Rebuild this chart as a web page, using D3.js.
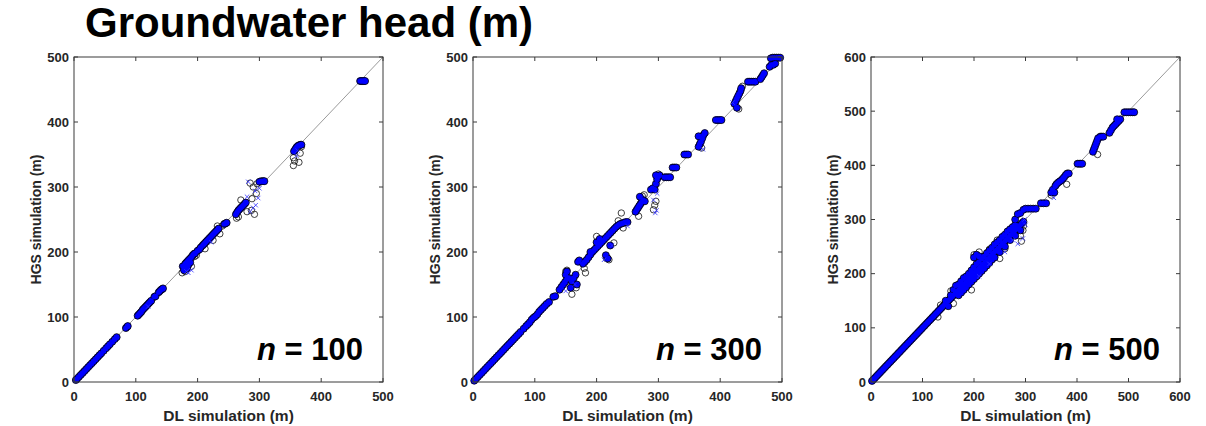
<!DOCTYPE html>
<html lang="en">
<head>
<meta charset="UTF-8">
<title>Groundwater head (m)</title>
<script src="https://d3js.org/d3.v7.min.js"></script>
<style>
    body { margin: 0; background: #fff; font-family: Arial, 'Liberation Sans', sans-serif; }
    svg { display: block; }
    .tick-label { font-size: 13px; font-weight: bold; fill: #262626; }
    .axis-label { font-weight: bold; fill: #262626; }
    .box { fill: none; stroke: #3a3a3a; stroke-width: 1; }
    .diag { stroke: #808080; stroke-width: 0.8; }
</style>
</head>
<body>
<svg id="chart" width="1206" height="426"></svg>
<script>
// ---- data: [DL simulation, HGS simulation] in metres ----
const panelNames = ["100", "300", "500"];
const axisMax = [500, 500, 600];
const tickValues = [
    [0, 100, 200, 300, 400, 500],
    [0, 100, 200, 300, 400, 500],
    [0, 100, 200, 300, 400, 500, 600]
];

const main100 = [[3,3],[5,5],[8,8],[11,11],[14,14],[17,17],[20,20],[23,23],[26,26],[29,29],[32,32],[35,35],[38,38],[41,41],[44,44],[48,48],[52,52],[55,55],[58,58],[62,62],[66,66],[69,69],
    [84,83],[86,85],[87,86],
    [103,102],[105,104],[107,106],[109,108],[111,111],[113,113],[115,115],[117,117],[119,119],[121,121],[123,123],[125,125],[130,131],[132,132],[137,138],[139,140],[141,142],[143,143],[144,144],
    [176,178],[178,176],[180,182],[182,184],[184,186],[186,188],[188,190],[190,192],[192,195],[194,197],[196,198],[185,180],[188,184],[178,172],[183,175],
    [200,202],[203,204],[205,207],[208,210],[210,212],[212,214],[214,216],[216,218],[218,220],[220,222],[222,224],[224,226],[226,228],[228,230],[230,232],[232,234],[234,236],
    [243,243],[245,244],[247,245],
    [262,258],[264,261],[266,264],[268,266],[270,268],[272,270],[274,272],[276,274],[278,276],
    [300,308],[303,309],[306,309],[308,309],
    [356,355],[358,358],[360,361],[362,363],[364,364],[366,365],[368,365],
    [463,463],[465,463],[467,463],[469,463],[471,463]];
const open100 = [[175,168],[180,170],[190,178],[195,193],[198,195],[212,205],[225,218],[232,240],[236,228],[240,240],[263,252],[266,254],[280,262],[287,264],[292,258],[288,282],[295,290],[290,300],[296,305],[285,306],[355,333],[357,340],[355,345],[364,338],[366,352],[368,362],[270,280]];
const cross100 = [[182,170],[190,172],[185,168],[222,215],[280,285],[285,262],[290,268],[294,272],[298,283],[293,294],[282,308],[300,298],[360,348],[362,356],[120,116]];

const main300 = [[2,2],[5,5],[8,8],[11,11],[14,14],[17,17],[20,20],[23,23],[26,26],[29,29],[32,32],[35,35],[38,38],[41,41],[44,44],[47,47],[50,50],[53,53],[56,56],[59,59],[62,62],[65,65],[68,68],[71,71],[74,74],[77,77],[82,82],[86,86],[89,89],[92,92],[95,96],[98,99],[101,101],[104,104],[107,108],[110,111],[113,114],[116,117],[119,120],[123,123],[130,131],[133,132],[140,142],[143,146],[146,150],[149,154],[152,158],[155,160],[150,165],[152,170],[158,145],[160,155],[163,160],[166,165],[168,150],[170,185],[172,187],
    [178,182],[181,185],[184,188],[187,192],[190,196],[193,200],[196,203],[199,206],[202,209],[205,212],[208,215],[211,218],[214,221],[217,224],[220,227],[223,230],[226,233],[229,236],[232,239],[235,241],[238,243],[241,244],[244,245],[247,246],[250,246],[215,195],[218,190],[222,210],[190,200],[200,215],[205,220],
    [263,262],[265,265],[267,268],[269,271],[271,274],[273,277],[275,280],[270,285],[278,278],
    [288,296],[291,298],[294,296],[296,305],[298,312],[300,316],[302,318],[296,318],
    [310,315],[313,315],[316,315],[319,315],
    [323,330],[326,330],[329,330],
    [342,350],[345,350],[348,350],
    [365,362],[367,366],[369,370],[371,375],[373,380],[375,383],[365,378],
    [393,403],[396,403],[399,403],[402,403],
    [423,428],[425,432],[427,436],[429,440],[431,444],[433,448],[427,422],[434,452],
    [445,462],[448,462],[451,462],[454,462],[457,462],
    [465,466],[467,469],[469,472],[471,475],
    [480,485],[483,488],[486,488],[489,490],[482,498],[485,499],[488,499],[491,499],[494,499],[497,499]];
const open300 = [[150,170],[152,172],[167,145],[180,175],[182,168],[200,224],[216,190],[220,188],[240,260],[228,214],[243,237],[268,255],[274,286],[277,288],[294,272],[296,278],[292,265],[300,320],[370,360],[430,420],[436,455],[235,248],[160,135]];
const cross300 = [[295,260],[297,264],[292,280],[150,140],[165,150],[212,188],[225,210],[250,240],[420,430],[372,358],[298,290]];

const main500 = [[2,2],[5,5],[8,8],[11,11],[14,14],[17,17],[20,20],[23,23],[26,26],[29,29],[32,32],[35,35],[38,38],[41,41],[44,44],[47,47],[50,50],[53,53],[56,56],[59,59],[62,62],[65,65],[68,68],[71,71],[74,74],[77,77],[80,80],[83,83],[86,86],[89,89],[92,92],[95,95],[98,98],[101,101],[104,104],[107,107],[110,110],[113,113],[116,116],[119,119],[122,122],[125,125],[128,128],[131,131],[134,134],[137,137],[140,140],[143,143],[146,146],[149,149],[152,152],[155,155],[158,158],[161,161],[164,164],[167,167],[170,170],[173,173],[176,176],[179,179],[182,182],[185,185],[188,188],[191,191],[194,194],[197,197],[200,200],[203,203],[206,206],[209,209],[212,212],[215,215],[218,218],[221,221],[224,224],[227,227],[230,230],[233,233],[236,236],[239,239],[242,242],[245,245],[248,248],[251,251],[254,254],[257,257],[260,260],[263,263],[266,266],[269,269],[272,272],[275,275],[278,278],[281,281],[284,284],[287,287],[290,290],[293,293],[296,296],
    [160,170],[165,178],[170,180],[175,186],[180,192],[185,195],[190,200],[195,206],[200,212],[205,218],[210,222],[215,228],[220,232],[225,238],[230,243],[235,248],[240,254],[245,258],[250,262],[255,268],[260,272],[265,278],[270,282],[275,286],[280,290],
    [170,160],[175,165],[180,170],[185,175],[190,180],[195,185],[200,190],[205,195],[210,200],[215,205],[220,210],[225,215],[230,220],[235,226],[240,230],[250,240],[260,250],[270,262],[280,270],[290,280],[150,140],[155,160],[145,150],[200,230],[205,235],[210,232],[280,300],[285,310],[290,312],
    [296,318],[300,320],[305,320],[310,320],[315,320],[320,320],
    [330,330],[335,330],[340,330],
    [350,350],[353,355],[356,350],[358,362],[360,365],[363,368],[366,370],[369,372],[372,375],[375,378],[378,382],[381,385],[384,385],
    [401,403],[404,403],[407,403],[410,403],
    [431,425],[433,430],[435,435],[437,440],[439,445],[441,450],[445,453],[448,453],[451,453],
    [463,460],[466,465],[469,470],[472,473],[475,476],[478,479],[481,482],[484,485],[478,485],
    [492,498],[496,498],[500,498],[504,498],[508,498],[511,498]];
const open500 = [[245,262],[230,245],[200,235],[160,145],[195,170],[290,270],[292,260],[295,280],[296,288],[250,228],[260,246],[380,365],[440,420],[350,345],[210,240],[155,168],[130,120],[135,142]];
const cross500 = [[285,255],[295,265],[300,290],[298,300],[355,340],[260,240],[275,262],[210,195],[230,218]];

const mainSets = [main100, main300, main500];
const openSets = [open100, open300, open500];
const crossSets = [cross100, cross300, cross500];

// ---- layout ----
const panelLeft = [74, 473, 871];
const plotTop = 57, plotW = 309, plotH = 325;
const tickLen = 4;

const svg = d3.select("#chart");

svg.append("text")
    .attr("x", 85).attr("y", 37)
    .attr("font-size", 42).attr("font-weight", "bold").attr("fill", "#000")
    .text("Groundwater head (m)");

panelNames.forEach((name, i) => {
    const g = svg.append("g").attr("transform", `translate(${panelLeft[i]},${plotTop})`);
    const x = d3.scaleLinear().domain([0, axisMax[i]]).range([0, plotW]);
    const y = d3.scaleLinear().domain([0, axisMax[i]]).range([plotH, 0]);

    // 1:1 line
    g.append("line").attr("class", "diag")
        .attr("x1", x(0)).attr("y1", y(0))
        .attr("x2", x(axisMax[i])).attr("y2", y(axisMax[i]));

    // open black circles (outliers)
    g.append("g").selectAll("circle").data(openSets[i]).join("circle")
        .attr("cx", d => x(d[0])).attr("cy", d => y(d[1])).attr("r", 3.2)
        .attr("fill", "none").attr("stroke", "#111").attr("stroke-width", 0.8);

    // main points: black edge, blue fill
    g.append("g").selectAll("circle").data(mainSets[i]).join("circle")
        .attr("cx", d => x(d[0])).attr("cy", d => y(d[1])).attr("r", 3.5)
        .attr("fill", "#0000ff").attr("stroke", "#000").attr("stroke-width", 0.8);
    g.append("g").selectAll("circle").data(mainSets[i]).join("circle")
        .attr("cx", d => x(d[0])).attr("cy", d => y(d[1])).attr("r", 2.5)
        .attr("fill", "#0000ff");

    // blue crosses
    g.append("g").selectAll("path").data(crossSets[i]).join("path")
        .attr("d", d => {
            const cx = x(d[0]), cy = y(d[1]), s = 2.2;
            return `M${cx - s},${cy - s}L${cx + s},${cy + s}M${cx - s},${cy + s}L${cx + s},${cy - s}`;
        })
        .attr("stroke", "#3333ff").attr("stroke-width", 0.8).attr("fill", "none");

    // box
    g.append("rect").attr("class", "box").attr("width", plotW).attr("height", plotH);

    // ticks, inward on all four sides
    const tv = tickValues[i];
    const tk = g.append("g").attr("stroke", "#3a3a3a").attr("stroke-width", 1);
    tv.forEach(v => {
        tk.append("line").attr("x1", x(v)).attr("x2", x(v)).attr("y1", plotH).attr("y2", plotH - tickLen);
        tk.append("line").attr("x1", x(v)).attr("x2", x(v)).attr("y1", 0).attr("y2", tickLen);
        tk.append("line").attr("y1", y(v)).attr("y2", y(v)).attr("x1", 0).attr("x2", tickLen);
        tk.append("line").attr("y1", y(v)).attr("y2", y(v)).attr("x1", plotW).attr("x2", plotW - tickLen);
    });

    g.append("g").selectAll("text").data(tv).join("text")
        .attr("class", "tick-label")
        .attr("x", d => x(d)).attr("y", plotH + 19)
        .attr("text-anchor", "middle")
        .text(d => d);
    g.append("g").selectAll("text").data(tv).join("text")
        .attr("class", "tick-label")
        .attr("x", -5).attr("y", d => y(d) + 4.5)
        .attr("text-anchor", "end")
        .text(d => d);

    g.append("text").attr("class", "axis-label")
        .attr("font-size", 15.5)
        .attr("x", plotW / 2).attr("y", plotH + 39)
        .attr("text-anchor", "middle")
        .text("DL simulation (m)");
    g.append("text").attr("class", "axis-label")
        .attr("font-size", 14)
        .attr("transform", `translate(-33,${plotH / 2}) rotate(-90)`)
        .attr("text-anchor", "middle")
        .text("HGS simulation (m)");

    const lab = g.append("text")
        .attr("x", plotW - 20).attr("y", plotH - 22)
        .attr("text-anchor", "end")
        .attr("font-size", 31).attr("font-weight", "bold").attr("fill", "#000");
    lab.append("tspan").attr("font-style", "italic").text("n");
    lab.append("tspan").text(" = " + name);
});
</script>
</body>
</html>
